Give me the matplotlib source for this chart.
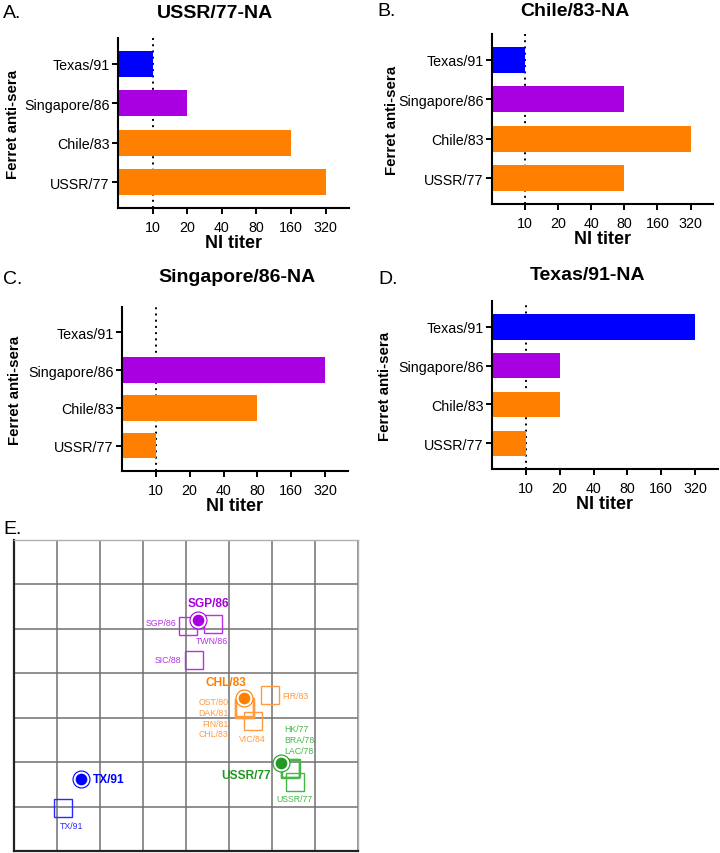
import matplotlib
matplotlib.use("Agg")
import matplotlib.pyplot as plt

plt.rcParams['font.family'] = ['Liberation Sans', 'DejaVu Sans']

W, H = 720, 854

# bar panels A-D
sera = ["USSR/77", "Chile/83", "Singapore/86", "Texas/91"]
sera_colors = ["#ff8000", "#ff8000", "#a800e0", "#0000ff"]
titer_ticks = [10, 20, 40, 80, 160, 320]

ussr_na = [320, 160, 20, 10]
chile_na = [80, 320, 80, 10]
singapore_na = [10, 80, 320, None]   # no titer for Texas/91 serum
texas_na = [10, 20, 20, 320]

# antigenic map (panel E), grid units
antigen_names = ["SGP/86", "CHL/83", "USSR/77", "TX/91"]
antigen_x = [4.27, 5.36, 6.20, 1.56]
antigen_y = [5.20, 3.44, 1.98, 1.61]
antigen_colors = ["#a800e0", "#ff8000", "#229922", "#0000ff"]

serum_names = ["SGP/86", "TWN/86", "SIC/88", "FIR/83", "OST/80", "DAK/81",
               "FIN/81", "CHL/83", "VIC/84", "HK/77", "BRA/78", "LAC/78",
               "USSR/77", "TX/91"]
serum_x = [4.05, 4.62, 4.18, 5.95, 5.34, 5.38, 5.35, 5.37, 5.55, 6.43, 6.44, 6.42, 6.53, 1.15]
serum_y = [5.07, 5.11, 4.31, 3.51, 3.19, 3.23, 3.21, 3.20, 2.93, 1.86, 1.87, 1.85, 1.55, 0.96]
serum_colors = ["#b830e8"] * 3 + ["#ff9a40"] * 6 + ["#44b844"] * 4 + ["#2a2aff"]


def frac(x0, y0, x1, y1):
    return [x0 / W, 1 - y1 / H, (x1 - x0) / W, (y1 - y0) / H]


def pt(x, y):
    return x / W, 1 - y / H


fig = plt.figure(figsize=(7.2, 8.54), dpi=100)


def titer_panel(box, values, letter, letter_xy, title, title_xy, ylab_x):
    ax = fig.add_axes(frac(*box))
    ax.set_xscale('log', base=2)
    for i, v in enumerate(values):
        if v is None:
            continue
        ax.barh(i, v - 5, left=5, height=0.66, color=sera_colors[i], zorder=2)
    ax.axvline(10, color='black', ls=(0, (1, 2.2)), lw=1.4, zorder=1)
    ax.set_xlim(5, 512)
    ax.set_ylim(-0.66, 3.66)
    ax.set_xticks(titer_ticks)
    ax.set_xticklabels([str(t) for t in titer_ticks])
    ax.xaxis.set_minor_locator(plt.NullLocator())
    ax.set_yticks(range(len(sera)))
    ax.set_yticklabels(sera)
    ax.tick_params(axis='both', labelsize=10.3, width=1.4, length=4, direction='out')
    ax.tick_params(axis='x', pad=5)
    ax.tick_params(axis='y', pad=2)
    for s in ['top', 'right']:
        ax.spines[s].set_visible(False)
    for s in ['left', 'bottom']:
        ax.spines[s].set_linewidth(1.5)
    ax.set_xlabel("NI titer", fontsize=13, fontweight='bold', labelpad=0)
    cy = (box[1] + box[3]) / 2
    fig.text(*pt(ylab_x, cy), "Ferret anti-sera", rotation=90, fontsize=10.8,
             fontweight='bold', ha='center', va='center')
    fig.text(*pt(*letter_xy), letter, fontsize=14, ha='left', va='center')
    fig.text(*pt(*title_xy), title, fontsize=14, fontweight='bold', ha='center', va='center')
    return ax


titer_panel((118, 39, 349, 209), ussr_na, "A.", (3, 13), "USSR/77-NA", (215, 14), 13)
titer_panel((492, 35, 713, 205), chile_na, "B.", (377, 12), "Chile/83-NA", (575, 12), 392)
titer_panel((122, 308, 348, 472), singapore_na, "C.", (3, 280), "Singapore/86-NA", (237, 277), 15)
titer_panel((492, 302, 718, 470), texas_na, "D.", (378, 280), "Texas/91-NA", (588, 276), 385)

# panel E
fig.text(*pt(3, 530), "E.", fontsize=14, ha='left', va='center')
ax = fig.add_axes(frac(14, 541, 358, 852))
ax.set_xlim(0, 8)
ax.set_ylim(0, 7)
ax.set_xticks(range(9))
ax.set_yticks(range(8))
ax.grid(True, color='#707070', lw=1.1)
ax.tick_params(length=0, labelbottom=False, labelleft=False)
for s in ['left', 'bottom']:
    ax.spines[s].set_linewidth(1.6)
    ax.spines[s].set_color('#222222')
for s in ['top', 'right']:
    ax.spines[s].set_linewidth(1.0)
    ax.spines[s].set_color('#b0b0b0')

for x, y, c in zip(serum_x, serum_y, serum_colors):
    ax.plot(x, y, marker='s', ms=13, mfc='none', mec=c, mew=1.0, zorder=4)
for x, y, c in zip(antigen_x, antigen_y, antigen_colors):
    ax.plot(x, y, marker='o', ms=12.2, mfc='white', mec=c, mew=0.8, zorder=5)
    ax.plot(x, y, marker='o', ms=8.4, mfc=c, mec=c, mew=0, zorder=6)

# bold antigen labels
bold_pos = [(4.51, 5.58, 'center'), (4.92, 3.81, 'center'), (5.97, 1.72, 'right'), (1.83, 1.61, 'left')]
for name, c, (x, y, ha) in zip(antigen_names, antigen_colors, bold_pos):
    ax.text(x, y, name, color=c, fontsize=8.6, fontweight='bold', ha=ha, va='center', zorder=7)

# small serum labels
small_pos = [(3.77, 5.15, 'right'), (4.60, 4.73, 'center'), (3.90, 4.31, 'right'),
             (6.24, 3.51, 'left'), (4.98, 3.36, 'right'), (4.98, 3.12, 'right'),
             (4.98, 2.88, 'right'), (4.98, 2.64, 'right'), (5.55, 2.54, 'center'),
             (6.28, 2.75, 'left'), (6.28, 2.51, 'left'), (6.28, 2.27, 'left'),
             (6.53, 1.18, 'center'), (1.33, 0.58, 'center')]
for name, c, (x, y, ha) in zip(serum_names, serum_colors, small_pos):
    ax.text(x, y, name, color=c, fontsize=6.3, ha=ha, va='center', zorder=7)

fig.savefig("out.png", dpi=100)
